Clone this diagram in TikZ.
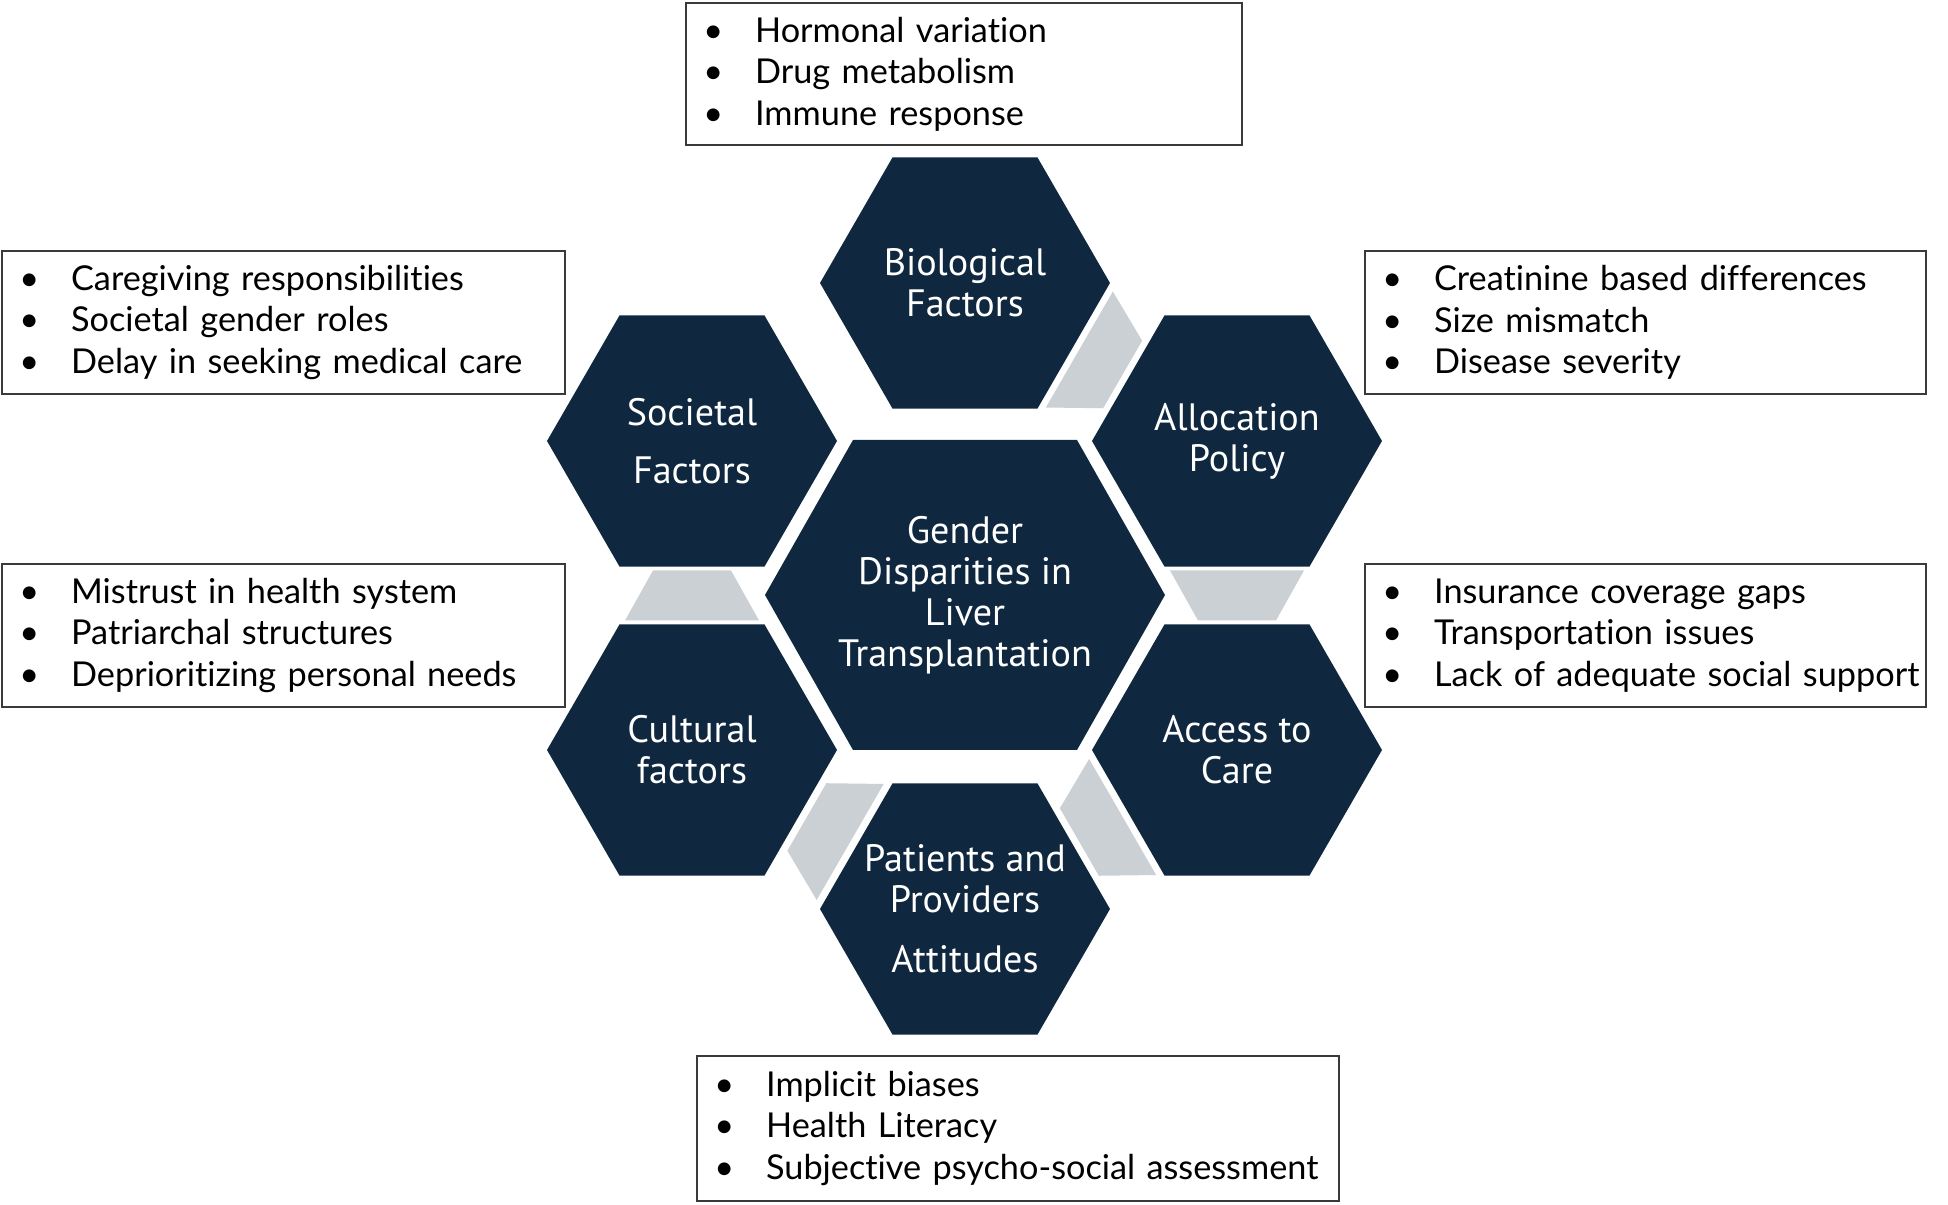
\documentclass[tikz,border=0pt]{standalone}
\usepackage{fontspec}
\setmainfont[Ligatures=CommonOff]{Lato}
\newfontfamily\hexfont{PT Sans}
\usetikzlibrary{calc}
\definecolor{hexnavy}{HTML}{10283F}
\definecolor{linkgray}{HTML}{CBD0D5}
\definecolor{boxline}{HTML}{3A3A3A}
\newcommand{\itm}[1]{\makebox[29.5pt][l]{\textbullet}\mbox{#1}}

\begin{document}
\begin{tikzpicture}[x=0.02cm, y=0.02cm,
  hexlabel/.style={text=white, align=center, inner sep=0, font=\hexfont\fontsize{21.7}{23.3}\selectfont},
  listbox/.style={draw=boxline, line width=0.8pt, align=left, inner xsep=9.8pt, inner ysep=0,
    minimum height=2.86cm, text width=#1, font=\fontsize{19.5}{23.6}\selectfont}]
\useasboundingbox (0,0) rectangle (1948,1204);
\coordinate (hub) at (965,609);
\foreach \n/\x/\y in {bio/965/921, alloc/1237/763, access/1237/454, pat/965/295, cult/692/454, soc/692/763}
  \coordinate (\n) at (\x,\y);

% links between the outer hexagons
\foreach \a/\b/\ang in {bio/alloc/-30, alloc/access/-90, access/pat/-150, pat/cult/150, cult/soc/90}
  \fill[linkgray, shift={($(\a)!0.5!(\b)$)}, rotate=\ang] (-25,67) -- (25,39) -- (25,-39) -- (-25,-67) -- cycle;

% hexagons
\foreach \n in {bio,alloc,access,pat,cult,soc}
  \fill[hexnavy] (\n) +(0:145) -- +(60:145) -- +(120:145) -- +(180:145) -- +(240:145) -- +(300:145) -- cycle;
\fill[hexnavy] (hub) +(200,0) -- +(112,155) -- +(-112,155) -- +(-200,0) -- +(-112,-155) -- +(112,-155) -- cycle;

\node[hexlabel] (hubL) at (hub) {Gender\\Disparities in\\Liver\\Transplantation};
\node[hexlabel] (bioL) at (bio) {Biological\\Factors};
\node[hexlabel] (allocL) at (alloc) {Allocation\\Policy};
\node[hexlabel] (accessL) at (access) {Access to\\Care};
\node[hexlabel] (patL) at (pat) {Patients and\\Providers\\[10.8pt]Attitudes};
\node[hexlabel] (cultL) at (cult) {Cultural\\factors};
\node[hexlabel] (socL) at (soc) {Societal\\[9.7pt]Factors};

% lists
\node[listbox=10.43cm, minimum height=2.84cm] (bioBox) at (964,1130)
  {\itm{Hormonal variation}\\\itm{Drug metabolism}\\\itm{Immune response}};
\node[listbox=10.57cm] (socBox) at (283.5,881.5)
  {\itm{Caregiving responsibilities}\\\itm{Societal gender roles}\\\itm{Delay in seeking medical care}};
\node[listbox=10.57cm] (cultBox) at (283.5,568.5)
  {\itm{Mistrust in health system}\\\itm{Patriarchal structures}\\\itm{Deprioritizing personal needs}};
\node[listbox=10.53cm] (allocBox) at (1645.5,881.5)
  {\itm{Creatinine based differences}\\\itm{Size mismatch}\\\itm{Disease severity}};
\node[listbox=10.53cm] (accessBox) at (1645.5,568.5)
  {\itm{Insurance coverage gaps}\\\itm{Transportation issues}\\\itm{Lack of adequate social support}};
\node[listbox=12.15cm, minimum height=2.9cm] (patBox) at (1018,75.5)
  {\itm{Implicit biases}\\\itm{Health Literacy}\\\itm{Subjective psycho-social assessment}};
\end{tikzpicture}
\end{document}
